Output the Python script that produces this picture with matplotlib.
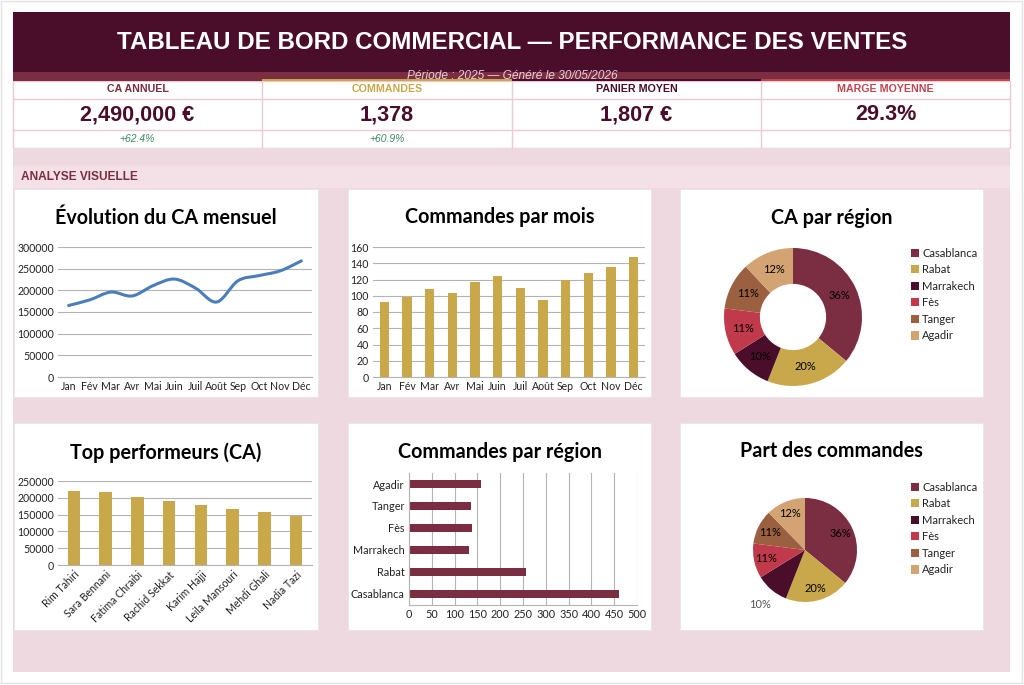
import matplotlib
matplotlib.use('Agg')
import matplotlib.pyplot as plt
from matplotlib.patches import Rectangle, PathPatch, Patch
from matplotlib.path import Path
import numpy as np

plt.rcParams['font.family'] = ['Lato', 'DejaVu Sans']

W, H = 1024, 685

# données
mois = ['Jan', 'Fév', 'Mar', 'Avr', 'Mai', 'Juin', 'Juil', 'Août', 'Sep', 'Oct', 'Nov', 'Déc']
ca_mensuel = [165000, 178000, 196000, 187000, 211000, 226000, 205000, 173000, 222000, 234000, 245000, 268000]
commandes_mois = [92, 99, 108, 103, 117, 124, 110, 95, 119, 128, 135, 148]

vendeurs = ['Rim Tahiri', 'Sara Bennani', 'Fatima Chraibi', 'Rachid Sekkat',
            'Karim Hajji', 'Leila Mansouri', 'Mehdi Ghali', 'Nadia Tazi']
ca_vendeurs = [221000, 217000, 201000, 190000, 180000, 168000, 157000, 146000]

regions = ['Casablanca', 'Rabat', 'Marrakech', 'Fès', 'Tanger', 'Agadir']
ca_regions_pct = [36, 20, 10, 11, 11, 12]
commandes_regions = [460, 256, 131, 138, 137, 157]

kpi_labels = ['CA ANNUEL', 'COMMANDES', 'PANIER MOYEN', 'MARGE MOYENNE']
kpi_values = ['2,490,000 €', '1,378', '1,807 €', '29.3%']
kpi_deltas = ['+62.4%', '+60.9%', '', '']

# couleurs
MAROON_D = '#4a0e2b'
MAROON = '#7b2d42'
GOLD = '#c9a84c'
RED = '#c0474f'
BROWN = '#9b6040'
TAN = '#d4a373'
PINK_BG = '#eed9e0'
PINK_LINE = '#ecc9d5'
region_colors = [MAROON, GOLD, MAROON_D, '#c03a4b', BROWN, TAN]
kpi_colors = [MAROON, GOLD, MAROON_D, RED]

fig = plt.figure(figsize=(W / 100, H / 100), dpi=100)
bg = fig.add_axes([0, 0, 1, 1])
bg.set_xlim(0, W)
bg.set_ylim(H, 0)
bg.axis('off')


def rect(x0, y0, x1, y1, **kw):
    bg.add_patch(Rectangle((x0, y0), x1 - x0, y1 - y0, **kw))


def px_axes(x0, y0, x1, y1):
    return fig.add_axes([x0 / W, 1 - y1 / H, (x1 - x0) / W, (y1 - y0) / H])


# cadre extérieur
rect(1, 1, W - 2, H - 2, facecolor='white', edgecolor='#e3e3e3', lw=1)

# en-tête
rect(13, 12, 1010, 72, facecolor=MAROON_D, lw=0)
rect(13, 72, 1010, 81, facecolor=MAROON, lw=0)
bg.text(512, 42, 'TABLEAU DE BORD COMMERCIAL — PERFORMANCE DES VENTES', ha='center', va='center',
        color='white', fontsize=17.4, fontweight='bold', family='Liberation Sans')

# KPI
rect(13, 81, 1010, 148, facecolor='white', edgecolor=PINK_LINE, lw=1)
cols = [13, 262, 512, 761, 1010]
for i in range(4):
    x0, x1 = cols[i], cols[i + 1]
    rect(x0, 78.5, x1, 81, facecolor=kpi_colors[i], lw=0, zorder=3)
    if i > 0:
        bg.plot([x0, x0], [81, 148], color=PINK_LINE, lw=1)
    xc = (x0 + x1) / 2
    bg.text(xc, 89, kpi_labels[i], ha='center', va='center', color=kpi_colors[i],
            fontsize=7.7, fontweight='bold', family='Liberation Sans')
    bg.text(xc, 114.5, kpi_values[i], ha='center', va='center', color=MAROON_D,
            fontsize=15.6, fontweight='bold', family='Liberation Sans')
    bg.text(xc, 139, kpi_deltas[i], ha='center', va='center', color='#3e8a5e',
            fontsize=7.5, style='italic', family='Liberation Sans')
bg.plot([13, 1010], [99, 99], color=PINK_LINE, lw=1)
bg.plot([13, 1010], [129.5, 129.5], color=PINK_LINE, lw=1)
bg.text(512, 75.5, 'Période : 2025 — Généré le 30/05/2026', ha='center', va='center', zorder=4,
        color='#e7cfd8', fontsize=8.6, style='italic', family='Liberation Sans')

# zone analyse
rect(13, 148, 1010, 672, facecolor=PINK_BG, lw=0)
rect(13, 166, 1010, 188, facecolor='#f3e1e7', lw=0)
bg.text(21, 177, 'ANALYSE VISUELLE', ha='left', va='center', color=MAROON,
        fontsize=8.6, fontweight='bold', family='Liberation Sans')

panels = [(14, 189, 318, 397), (348, 189, 651, 397), (680, 189, 983, 397),
          (14, 423, 318, 630), (348, 423, 651, 630), (680, 423, 983, 630)]
titles = ['Évolution du CA mensuel', 'Commandes par mois', 'CA par région',
          'Top performeurs (CA)', 'Commandes par région', 'Part des commandes']
title_y = [218, 217, 218, 453, 452, 451]
for (x0, y0, x1, y1), t, ty in zip(panels, titles, title_y):
    rect(x0, y0, x1, y1, facecolor='white', edgecolor='#e6e6e6', lw=0.6)
    bg.text((x0 + x1) / 2, ty, t, ha='center', va='center', color='black',
            fontsize=14.2, fontweight='bold')

GRID = '#b3b3b3'
TXT = '#222222'


def style_axes(ax, grid_axis='y'):
    ax.set_facecolor('none')
    for s in ['top', 'right', 'left']:
        ax.spines[s].set_visible(False)
    ax.spines['bottom'].set_color(GRID)
    ax.grid(axis=grid_axis, color=GRID, lw=0.8)
    ax.set_axisbelow(True)
    ax.tick_params(length=0, labelsize=7.6, colors=TXT, pad=3)


# 1. évolution CA (courbe lissée)
ax1 = px_axes(58, 247, 312, 377)
style_axes(ax1)
xs = np.arange(len(mois))
ys = np.array(ca_mensuel, dtype=float)
verts = [(xs[0], ys[0])]
codes = [Path.MOVETO]
n = len(xs)
for i in range(n - 1):
    p_prev = np.array([xs[max(i - 1, 0)], ys[max(i - 1, 0)]])
    p0 = np.array([xs[i], ys[i]])
    p1 = np.array([xs[i + 1], ys[i + 1]])
    p_next = np.array([xs[min(i + 2, n - 1)], ys[min(i + 2, n - 1)]])
    c1 = p0 + (p1 - p_prev) / 6
    c2 = p1 - (p_next - p0) / 6
    verts += [tuple(c1), tuple(c2), tuple(p1)]
    codes += [Path.CURVE4] * 3
ax1.add_patch(PathPatch(Path(verts, codes), facecolor='none', edgecolor='#4a7ebb', lw=2.2,
                        capstyle='round'))
ax1.set_xlim(-0.5, n - 0.5)
ax1.set_ylim(0, 300000)
ax1.set_yticks(range(0, 300001, 50000))
ax1.set_yticklabels([str(v) for v in range(0, 300001, 50000)])
ax1.set_xticks(xs)
ax1.set_xticklabels(mois)

# 2. commandes par mois
ax2 = px_axes(373, 247, 645, 377)
style_axes(ax2)
ax2.bar(xs, commandes_mois, width=0.42, color=GOLD)
ax2.set_xlim(-0.5, n - 0.5)
ax2.set_ylim(0, 160)
ax2.set_yticks(range(0, 161, 20))
ax2.set_xticks(xs)
ax2.set_xticklabels(mois)

# 3. donut CA par région
ax3 = px_axes(724, 248, 862, 386)
ax3.pie(ca_regions_pct, colors=region_colors, startangle=90, counterclock=False, radius=1,
        wedgeprops=dict(width=0.52, linewidth=0), autopct='%1.0f%%', pctdistance=0.74,
        textprops=dict(fontsize=8, color='black'))
ax3.set_xlim(-1, 1)
ax3.set_ylim(-1, 1)
ax3.set_aspect('equal')
ax3.axis('off')

handles = [Patch(facecolor=c, edgecolor='none') for c in region_colors]
for ytop in (242, 476):
    fig.legend(handles, regions, loc='upper left', bbox_to_anchor=(905 / W, 1 - ytop / H),
               frameon=False, fontsize=8, handlelength=0.75, handleheight=0.75,
               handletextpad=0.3, labelspacing=0.5, borderpad=0, labelcolor=TXT)

# 4. top performeurs
ax4 = px_axes(58, 481, 312, 565)
style_axes(ax4)
xv = np.arange(len(vendeurs))
ax4.bar(xv, ca_vendeurs, width=0.4, color=GOLD)
ax4.set_xlim(-0.5, len(vendeurs) - 0.5)
ax4.set_ylim(0, 250000)
ax4.set_yticks(range(0, 250001, 50000))
ax4.set_yticklabels([str(v) for v in range(0, 250001, 50000)])
ax4.set_xticks(xv)
ax4.set_xticklabels(vendeurs, rotation=45, ha='right', rotation_mode='anchor')

# 5. commandes par région
ax5 = px_axes(409, 473, 637, 605)
style_axes(ax5, grid_axis='x')
ax5.tick_params(labelsize=7.8)
ax5.spines['left'].set_visible(True)
ax5.spines['left'].set_color(GRID)
yr = np.arange(len(regions))
ax5.barh(yr, commandes_regions, height=0.4, color=MAROON)
ax5.set_ylim(-0.5, len(regions) - 0.5)
ax5.set_xlim(0, 500)
ax5.set_xticks(range(0, 501, 50))
ax5.set_yticks(yr)
ax5.set_yticklabels(regions)

# 6. part des commandes
ax6 = px_axes(753, 498, 857, 602)
wedges, _, autotexts = ax6.pie(commandes_regions, colors=region_colors, startangle=90,
                               counterclock=False, radius=1, wedgeprops=dict(linewidth=0),
                               autopct='%1.0f%%', pctdistance=0.76,
                               textprops=dict(fontsize=8, color='black'))
# l'étiquette de Marrakech est placée hors du secteur
w = wedges[2]
ang = np.deg2rad((w.theta1 + w.theta2) / 2)
autotexts[2].set_position((1.36 * np.cos(ang), 1.36 * np.sin(ang)))
autotexts[2].set_color('#555555')
ax6.set_xlim(-1, 1)
ax6.set_ylim(-1, 1)
ax6.set_aspect('equal')
ax6.axis('off')

fig.savefig('out.png', dpi=100)
